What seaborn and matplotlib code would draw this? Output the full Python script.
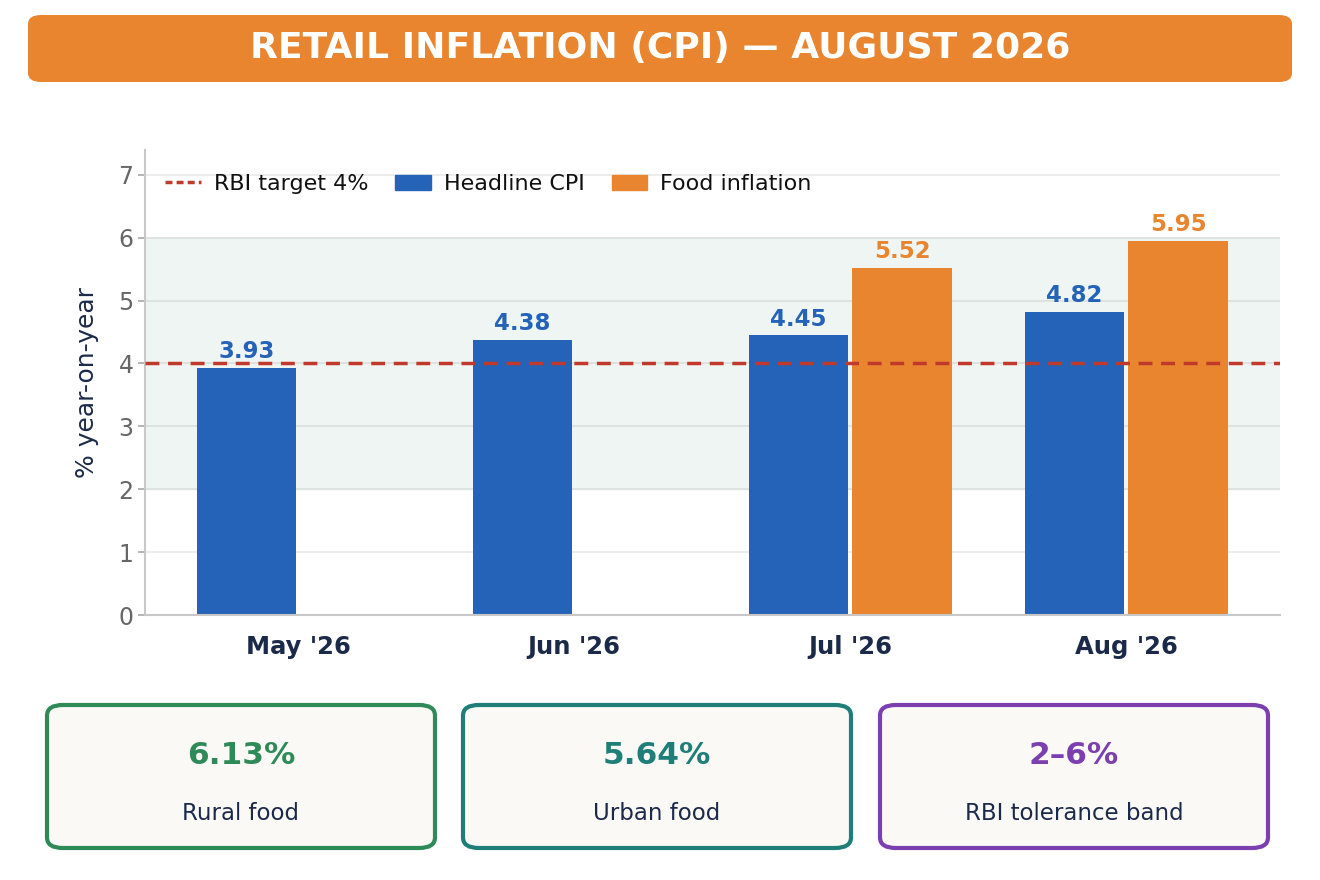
import matplotlib
matplotlib.use("Agg")
import matplotlib.pyplot as plt
import seaborn as sns
import pandas as pd
import numpy as np
from matplotlib.patches import FancyBboxPatch
from matplotlib.lines import Line2D
from matplotlib.patches import Patch

months = ["May '26", "Jun '26", "Jul '26", "Aug '26"]
headline = [3.93, 4.38, 4.45, 4.82]
food = [np.nan, np.nan, 5.52, 5.95]
card_values = ["6.13%", "5.64%", "2–6%"]
card_labels = ["Rural food", "Urban food", "RBI tolerance band"]
card_colors = ["#2e8b57", "#1f7f78", "#7b3fb0"]

BLUE = "#2563b8"
ORANGE = "#e8852e"
NAVY = "#1c2a4a"

sns.set_theme(style="white")
plt.rcParams['font.family'] = ['DejaVu Sans']

df = pd.DataFrame({
    "month": months * 2,
    "value": headline + food,
    "series": ["Headline CPI"] * 4 + ["Food inflation"] * 4,
})

fig = plt.figure(figsize=(13.2, 8.8), dpi=100)
ax = fig.add_axes([0.11, 0.301, 0.86, 0.529])
ax.axhspan(2, 6, color="#eef5f2", zorder=0)
for y in range(1, 8):
    ax.axhline(y, color="#dde3e1" if y in (2, 3, 4, 5, 6) else "#ececec", lw=1.5, zorder=0.5)

sns.barplot(data=df, x="month", y="value", hue="series", order=months,
            hue_order=["Headline CPI", "Food inflation"],
            palette=[BLUE, ORANGE], width=0.75, gap=0.04, ax=ax,
            saturation=1, legend=False, zorder=2, linewidth=0)
ax.axhline(4, color="#c0392b", lw=2.5, ls=(0, (4, 2.5)), zorder=3)

for cont, col in zip(ax.containers, [BLUE, ORANGE]):
    for bar in cont:
        h = bar.get_height()
        if np.isnan(h) or h == 0:
            continue
        ax.text(bar.get_x() + bar.get_width() / 2, h + 0.07, f"{h:.2f}",
                ha="center", va="bottom", color=col, fontsize=16.5, fontweight="bold")

ax.set_ylim(0, 7.4)
ax.set_xlim(-0.554, 3.558)
ax.set_yticks(range(0, 8))
ax.tick_params(axis="y", labelsize=17, labelcolor="#666666", left=True, color="#aaaaaa", length=5)
ax.tick_params(axis="x", labelsize=17.5, labelcolor=NAVY, bottom=False, pad=8)
for lab in ax.get_xticklabels():
    lab.set_fontweight("bold")
ax.set_xlabel("")
ax.set_ylabel("% year-on-year", fontsize=18, color=NAVY, labelpad=14)
for s in ["top", "right"]:
    ax.spines[s].set_visible(False)
for s in ["left", "bottom"]:
    ax.spines[s].set_color("#c8c8c8")
    ax.spines[s].set_linewidth(1.5)

handles = [Line2D([0], [0], color="#c0392b", lw=2.5, ls=(0, (2, 1.2))),
           Patch(color=BLUE), Patch(color=ORANGE)]
ax.legend(handles, ["RBI target 4%", "Headline CPI", "Food inflation"], loc="upper left",
          ncol=3, frameon=False, fontsize=16, handlelength=1.6, columnspacing=1.2,
          handletextpad=0.6, bbox_to_anchor=(0.0, 0.99))
for t in ax.get_legend().get_texts():
    t.set_color("#111111")

fig.patches.append(FancyBboxPatch((28 / 1320, 1 - 82 / 880), 1264 / 1320, 67 / 880,
                                  boxstyle="round,pad=0,rounding_size=0.01",
                                  transform=fig.transFigure, facecolor=ORANGE,
                                  edgecolor="none"))
fig.text(0.5, 1 - 48 / 880, "RETAIL INFLATION (CPI) — AUGUST 2026", ha="center", va="center",
         color="white", fontsize=26, fontweight="bold")

xs = [47, 463, 880]
for x0, v, l, c in zip(xs, card_values, card_labels, card_colors):
    fig.patches.append(FancyBboxPatch((x0 / 1320, 1 - 848 / 880), 388 / 1320, 143 / 880,
                                      boxstyle="round,pad=0,rounding_size=0.012",
                                      transform=fig.transFigure, facecolor="#faf9f6",
                                      edgecolor=c, lw=3))
    cx = (x0 + 194) / 1320
    fig.text(cx, 1 - 755 / 880, v, ha="center", va="center", color=c, fontsize=22.5, fontweight="bold")
    fig.text(cx, 1 - 813 / 880, l, ha="center", va="center", color=NAVY, fontsize=16.5)

fig.savefig("out.png", dpi=100)
